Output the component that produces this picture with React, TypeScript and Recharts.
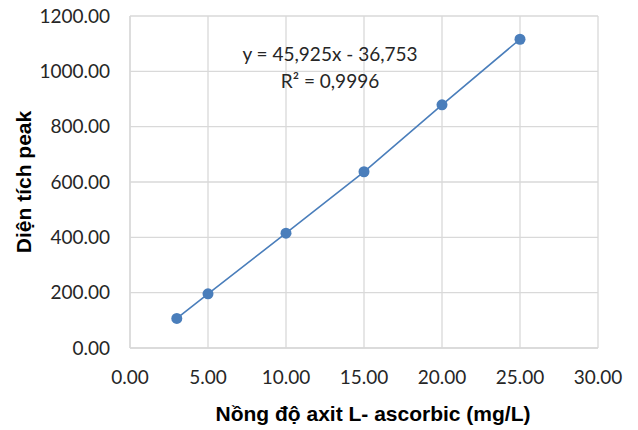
import React from "react";
import { ScatterChart, Scatter, XAxis, YAxis, CartesianGrid } from "recharts";

const concentrations = [3, 5, 10, 15, 20, 25];
const peakAreas = [107, 196, 415, 637, 879, 1116];
const xTicks = [0, 5, 10, 15, 20, 25, 30];
const yTicks = [0, 200, 400, 600, 800, 1000, 1200];
const equationText = "y = 45,925x - 36,753";
const r2Text = "R² = 0,9996";
const xTitle = "Nồng độ axit L- ascorbic (mg/L)";
const yTitle = "Diện tích peak";

const data = concentrations.map((x, i) => ({ x, y: peakAreas[i] }));

const BLUE = "#4a7ebb";
const GRID = "#d9d9d9";
const FONT = "Lato, 'Open Sans', sans-serif";
const TITLE_FONT = "'Liberation Sans', Arial, sans-serif";

const Dot = (props: any) => (
  <circle cx={props.cx} cy={props.cy} r={5.5} fill={BLUE} />
);

export default function App() {
  return (
    <div style={{ position: "absolute", left: 0, top: 0, width: 638, height: 430, background: "#fff" }}>
      <ScatterChart width={638} height={430} margin={{ top: 16, right: 40, bottom: 0, left: 0 }}>
        <CartesianGrid stroke={GRID} strokeWidth={1.3} />
        <XAxis
          type="number"
          dataKey="x"
          domain={[0, 30]}
          ticks={xTicks}
          tickFormatter={(v: number) => v.toFixed(2)}
          axisLine={{ stroke: GRID, strokeWidth: 1.3 }}
          tickLine={false}
          tickSize={0}
          tickMargin={23}
          height={82}
          tick={{ fill: "#262626", fontSize: 19, fontFamily: FONT }}
          label={{
            value: xTitle,
            position: "insideBottom",
            offset: 9,
            dx: 9,
            style: { fill: "#000", fontSize: 21, fontWeight: "bold", fontFamily: TITLE_FONT },
          }}
        />
        <YAxis
          type="number"
          dataKey="y"
          domain={[0, 1200]}
          ticks={yTicks}
          tickFormatter={(v: number) => v.toFixed(2)}
          axisLine={{ stroke: GRID, strokeWidth: 1.3 }}
          tickLine={false}
          tickSize={0}
          tickMargin={20}
          width={130}
          tick={{ fill: "#262626", fontSize: 19, fontFamily: FONT }}
          label={{
            value: yTitle,
            angle: -90,
            position: "insideLeft",
            offset: 24,
            style: { textAnchor: "middle", fill: "#000", fontSize: 21, fontWeight: "bold", fontFamily: TITLE_FONT },
          }}
        />
        <Scatter
          data={data}
          fill={BLUE}
          line={{ stroke: BLUE, strokeWidth: 1.6 }}
          shape={Dot}
          isAnimationActive={false}
        />
      </ScatterChart>
      <div
        style={{
          position: "absolute",
          left: 230,
          top: 40,
          width: 200,
          textAlign: "center",
          fontFamily: FONT,
          fontSize: 19,
          lineHeight: "27px",
          color: "#262626",
          whiteSpace: "nowrap",
        }}
      >
        <div>{equationText}</div>
        <div>{r2Text}</div>
      </div>
    </div>
  );
}
